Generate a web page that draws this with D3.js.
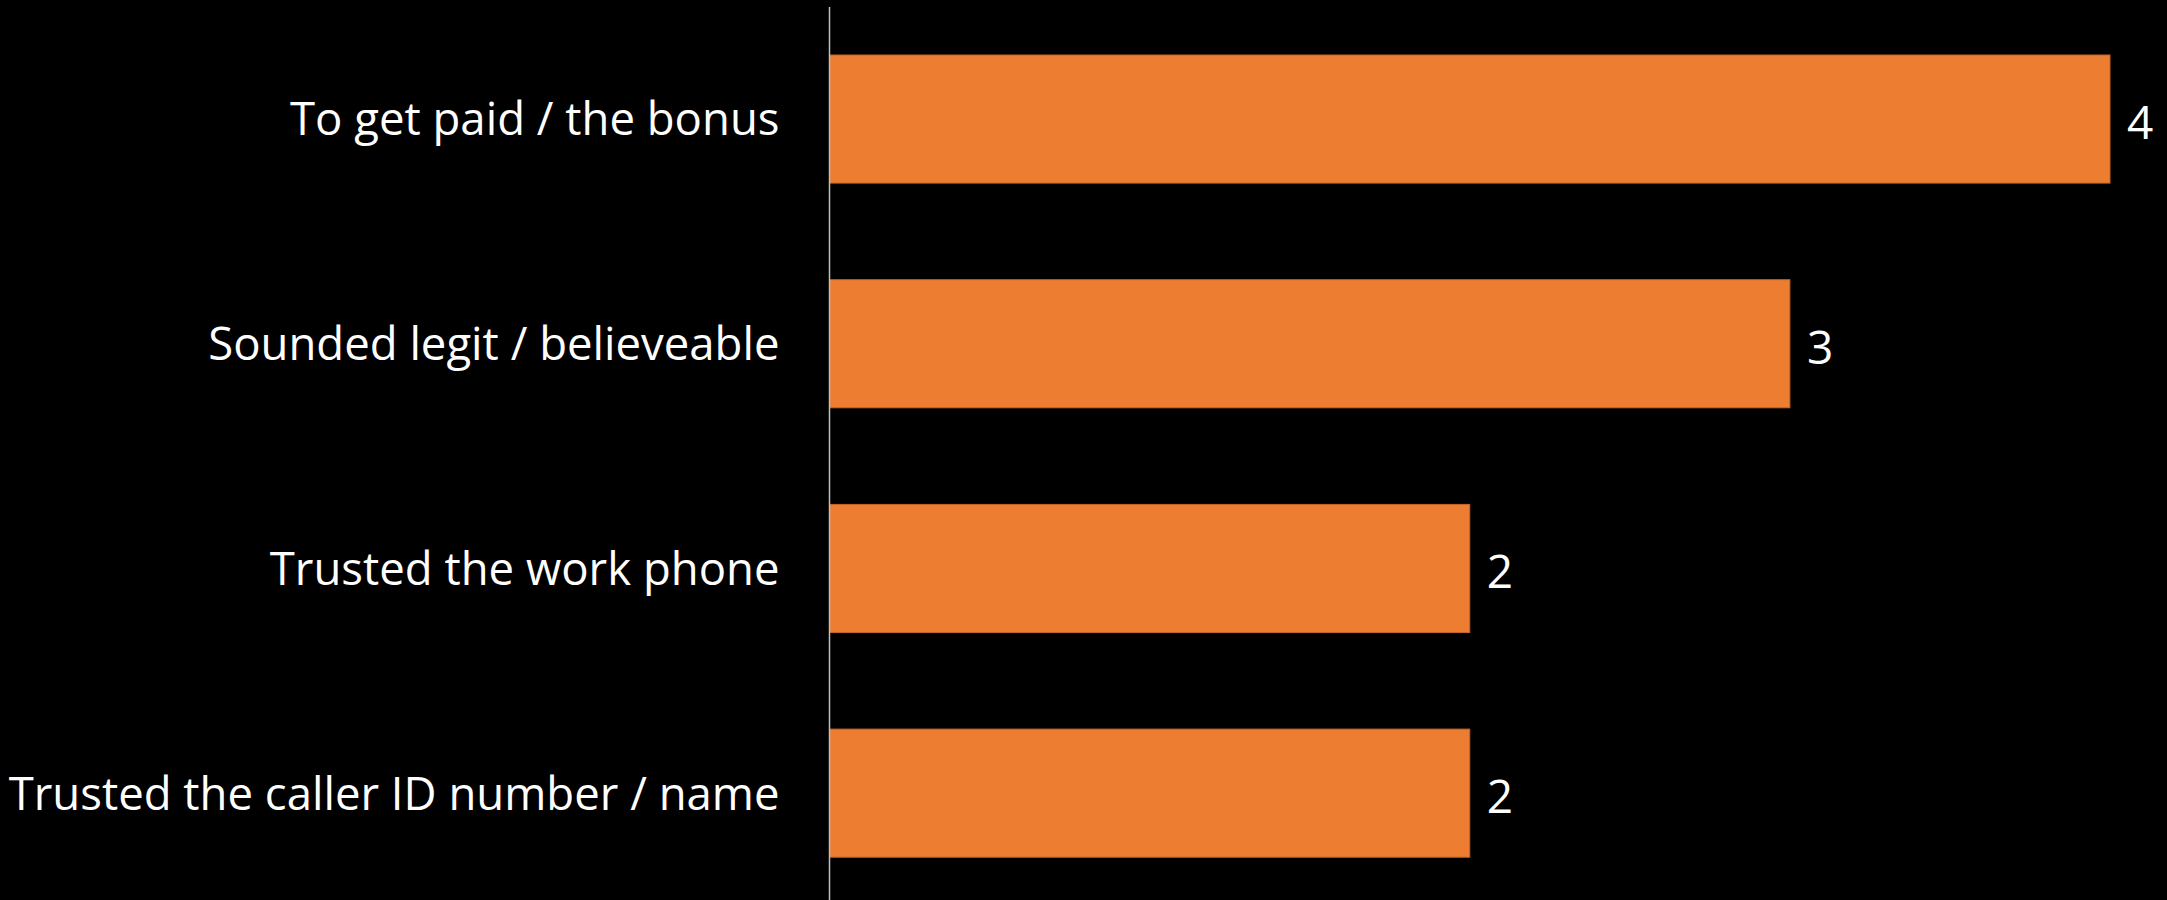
<!DOCTYPE html>
<html>
<head>
<meta charset="utf-8">
<script src="https://cdn.jsdelivr.net/npm/d3@7"></script>
<style>
  html, body { margin: 0; padding: 0; background: #000; }
  svg { display: block; }
</style>
</head>
<body>
<svg id="chart" width="2167" height="900"></svg>
<script>
// Reasons given for trusting the call
const categories = [
  "To get paid / the bonus",
  "Sounded legit / believeable",
  "Trusted the work phone",
  "Trusted the caller ID number / name"
];
const values = [4, 3, 2, 2];

const W = 2167, H = 900;
const left = 829.5;
const svg = d3.select("#chart");

svg.append("rect").attr("width", W).attr("height", H).attr("fill", "#000");

const x = d3.scaleLinear().domain([0, 4]).range([left, 2110]);
const y = d3.scaleBand()
  .domain(categories)
  .range([6.7, 905.5])
  .paddingInner(0.43)
  .paddingOuter(0.215);

// bars
svg.append("g").selectAll("rect")
  .data(categories)
  .join("rect")
  .attr("x", x(0))
  .attr("y", d => y(d))
  .attr("width", (d, i) => x(values[i]) - x(0))
  .attr("height", y.bandwidth())
  .attr("fill", "#ED7D31")
  .attr("stroke", "#C5652A")
  .attr("stroke-width", 1);

// value labels
svg.append("g").selectAll("text")
  .data(categories)
  .join("text")
  .attr("x", (d, i) => x(values[i]) + 17)
  .attr("y", d => y(d) + y.bandwidth() / 2 + 20)
  .attr("fill", "#fff")
  .attr("font-family", "'Open Sans', sans-serif")
  .attr("font-size", 46)
  .text((d, i) => values[i]);

// category axis
const axis = d3.axisLeft(y).tickSize(0).tickPadding(50);
const g = svg.append("g")
  .attr("transform", `translate(${left},0)`)
  .call(axis);
g.select(".domain").remove();
g.selectAll("text")
  .attr("fill", "#fff")
  .attr("font-family", "'Open Sans', sans-serif")
  .attr("font-size", 45.5)
  .attr("dy", "0.36em");

// vertical axis line
svg.append("line")
  .attr("x1", left).attr("x2", left)
  .attr("y1", 7).attr("y2", H)
  .attr("stroke", "#BFBFBF")
  .attr("stroke-width", 1.5);
</script>
</body>
</html>
